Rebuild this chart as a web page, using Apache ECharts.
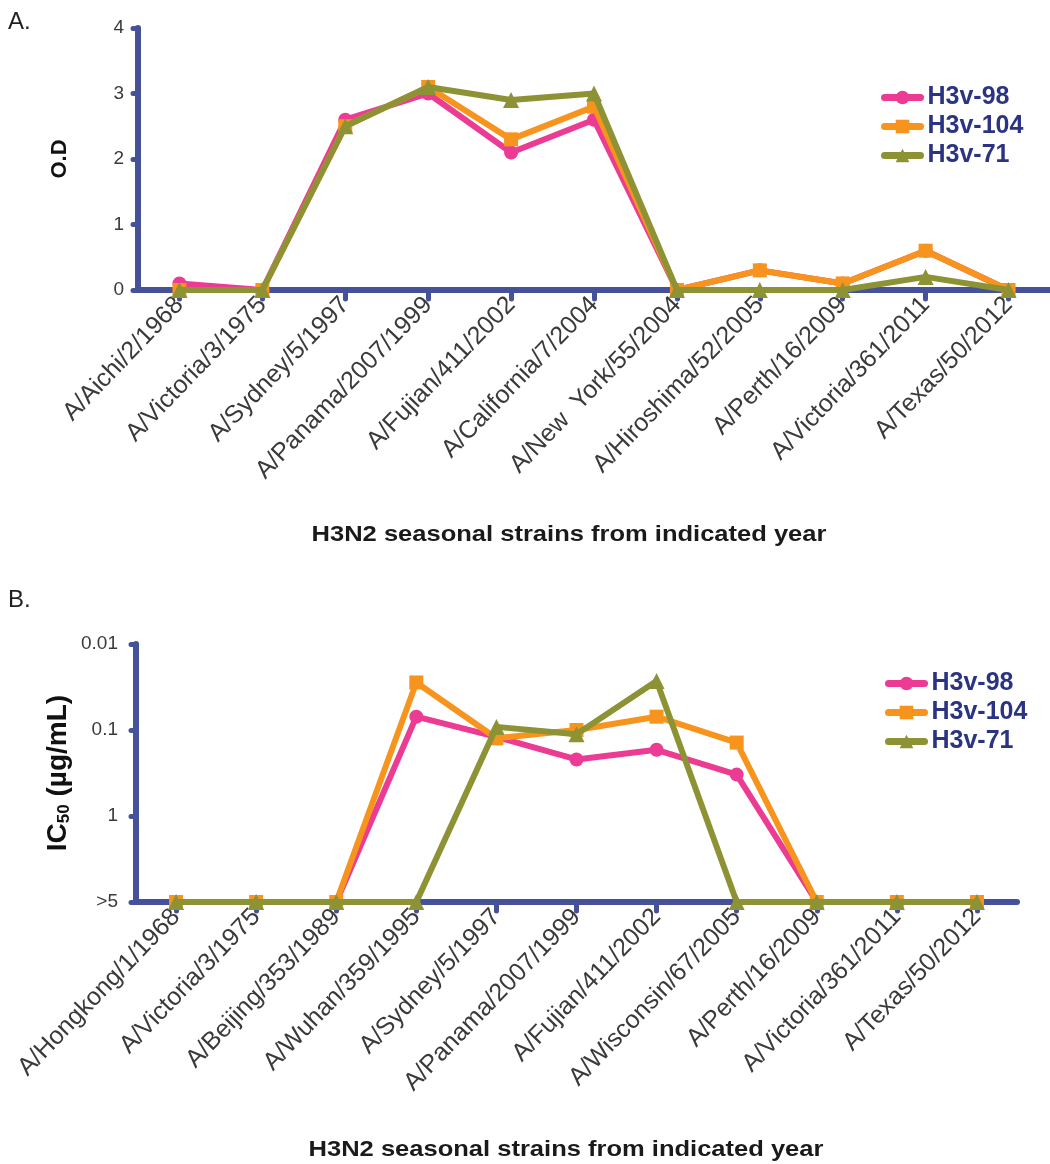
<!DOCTYPE html>
<html>
<head>
<meta charset="utf-8">
<script src="https://cdn.jsdelivr.net/npm/echarts@6/dist/echarts.min.js"></script>
<style>
html,body{margin:0;padding:0;background:#fff;}
#main{width:1050px;height:1164px;}
</style>
</head>
<body>
<div id="main"></div>
<script>
// ---------- Panel A data (O.D) ----------
const strainsA = ['A/Aichi/2/1968','A/Victoria/3/1975','A/Sydney/5/1997','A/Panama/2007/1999','A/Fujian/411/2002','A/California/7/2004','A/New  York/55/2004','A/Hiroshima/52/2005','A/Perth/16/2009','A/Victoria/361/2011','A/Texas/50/2012'];
const odH3v98  = [0.1, 0, 2.6, 3.0, 2.1, 2.6, 0, 0.3, 0.1, 0.6, 0];
const odH3v104 = [0, 0, 2.5, 3.1, 2.3, 2.8, 0, 0.3, 0.1, 0.6, 0];
const odH3v71  = [0, 0, 2.5, 3.1, 2.9, 3.0, 0, 0, 0, 0.2, 0];
const ticksA = [0, 1, 2, 3, 4];

// ---------- Panel B data (IC50, ug/mL; 10 plotted as ">5") ----------
const strainsB = ['A/Hongkong/1/1968','A/Victoria/3/1975','A/Beijing/353/1989','A/Wuhan/359/1995','A/Sydney/5/1997','A/Panama/2007/1999','A/Fujian/411/2002','A/Wisconsin/67/2005','A/Perth/16/2009','A/Victoria/361/2011','A/Texas/50/2012'];
const icH3v98  = [10, 10, 10, 0.07, 0.12, 0.22, 0.17, 0.33, 10, 10, 10];
const icH3v104 = [10, 10, 10, 0.028, 0.125, 0.1, 0.07, 0.14, 10, 10, 10];
const icH3v71  = [10, 10, 10, 10, 0.092, 0.112, 0.027, 10, 10, 10, 10];
const ticksB = [0.01, 0.1, 1, 10];
const tickLabelsB = ['0.01', '0.1', '1', '>5'];

const seriesNames = ['H3v-98', 'H3v-104', 'H3v-71'];
const colors = ['#ec3b93', '#f7941d', '#8d9235'];
const symbols = ['circle', 'rect', 'triangle'];

const axisColor = '#45529a';
const labelColor = '#3a3a3a';
const navy = '#2b3483';
const fontFam = 'Liberation Sans, Arial, sans-serif';

const chart = echarts.init(document.getElementById('main'), null, {renderer: 'canvas'});

function labelB(v) {
  for (let i = 0; i < ticksB.length; i++) {
    if (Math.abs(v - ticksB[i]) / ticksB[i] < 1e-6) return tickLabelsB[i];
  }
  return '';
}

const xAxisCommon = {
  type: 'category',
  boundaryGap: true,
  axisLine: {show: true, onZero: false, lineStyle: {color: axisColor, width: 6, cap: 'round'}},
  axisTick: {show: true, inside: false, interval: 0, alignWithLabel: true, length: 9, lineStyle: {color: axisColor, width: 5, cap: 'round'}},
  axisLabel: {rotate: 46, interval: 0, margin: 11, color: labelColor, fontSize: 25, fontFamily: fontFam},
  splitLine: {show: false}
};

const yAxisCommon = {
  axisLine: {show: true, lineStyle: {color: axisColor, width: 6, cap: 'round'}},
  axisTick: {show: true, length: 5, lineStyle: {color: axisColor, width: 5, cap: 'round'}},
  axisLabel: {color: labelColor, fontSize: 19, margin: 14, fontFamily: fontFam},
  splitLine: {show: false}
};

function mkSeries(idx, data, xi, yi) {
  return {
    name: seriesNames[idx],
    type: 'line',
    xAxisIndex: xi,
    yAxisIndex: yi,
    data: data,
    symbol: symbols[idx],
    symbolSize: idx === 2 ? 16 : 14,
    color: colors[idx],
    lineStyle: {width: 6, color: colors[idx]},
    itemStyle: {color: colors[idx]},
    animation: false,
    z: 3 + idx
  };
}

const legendCommon = {
  orient: 'vertical',
  itemWidth: 36,
  itemHeight: 17,
  itemGap: 4,
  lineStyle: {width: 7, cap: 'round'},
  textStyle: {color: navy, fontSize: 25, fontWeight: 'bold', fontFamily: fontFam, padding: [0, 0, 0, 2]},
  data: seriesNames
};

const option = {
  animation: false,
  backgroundColor: '#ffffff',
  grid: [
    {left: 138, top: 28, width: 921, height: 262},
    {left: 136, top: 644, width: 881, height: 258}
  ],
  xAxis: [
    Object.assign({}, xAxisCommon, {gridIndex: 0, data: strainsA}),
    Object.assign({}, xAxisCommon, {gridIndex: 1, data: strainsB})
  ],
  yAxis: [
    Object.assign({}, yAxisCommon, {gridIndex: 0, type: 'value', min: ticksA[0], max: ticksA[ticksA.length - 1], interval: 1}),
    Object.assign({}, yAxisCommon, {gridIndex: 1, type: 'log', logBase: 10, inverse: true, min: ticksB[0], max: ticksB[ticksB.length - 1],
      axisLabel: Object.assign({}, yAxisCommon.axisLabel, {margin: 18, formatter: labelB})})
  ],
  legend: [
    Object.assign({}, legendCommon, {left: 876, top: 80}),
    Object.assign({}, legendCommon, {left: 880, top: 666})
  ],
  series: [
    mkSeries(0, odH3v98, 0, 0),
    mkSeries(1, odH3v104, 0, 0),
    mkSeries(2, odH3v71, 0, 0),
    mkSeries(0, icH3v98, 1, 1),
    mkSeries(1, icH3v104, 1, 1),
    mkSeries(2, icH3v71, 1, 1)
  ],
  graphic: [
    {type: 'text', left: 8, top: 10, style: {text: 'A.', fill: '#231f20', font: '24px "Liberation Sans", Arial, sans-serif'}},
    {type: 'text', left: 8, top: 588, style: {text: 'B.', fill: '#231f20', font: '24px "Liberation Sans", Arial, sans-serif'}},
    {type: 'text', x: 60, y: 159, rotation: Math.PI / 2,
      style: {text: 'O.D', fill: '#111', font: 'bold 22px "Liberation Sans", Arial, sans-serif', textAlign: 'center', textVerticalAlign: 'middle'}},
    {type: 'text', x: 58, y: 773, rotation: Math.PI / 2,
      style: {text: '{a|IC}{s|50}{a| (µg/mL)}', textAlign: 'center', textVerticalAlign: 'middle',
        rich: {
          a: {fill: '#111', color: '#111', fontSize: 28, fontWeight: 'bold', fontFamily: fontFam},
          s: {fill: '#111', color: '#111', fontSize: 17, fontWeight: 'bold', fontFamily: fontFam, padding: [12, 0, 0, 0]}
        }}},
    {type: 'text', x: 569, y: 535, scaleX: 1.16,
      style: {text: 'H3N2 seasonal strains from indicated year', fill: '#1a1a1a', font: 'bold 22px "Liberation Sans", Arial, sans-serif', textAlign: 'center', textVerticalAlign: 'middle'}},
    {type: 'text', x: 566, y: 1150, scaleX: 1.16,
      style: {text: 'H3N2 seasonal strains from indicated year', fill: '#1a1a1a', font: 'bold 22px "Liberation Sans", Arial, sans-serif', textAlign: 'center', textVerticalAlign: 'middle'}}
  ]
};

chart.setOption(option);
</script>
</body>
</html>
